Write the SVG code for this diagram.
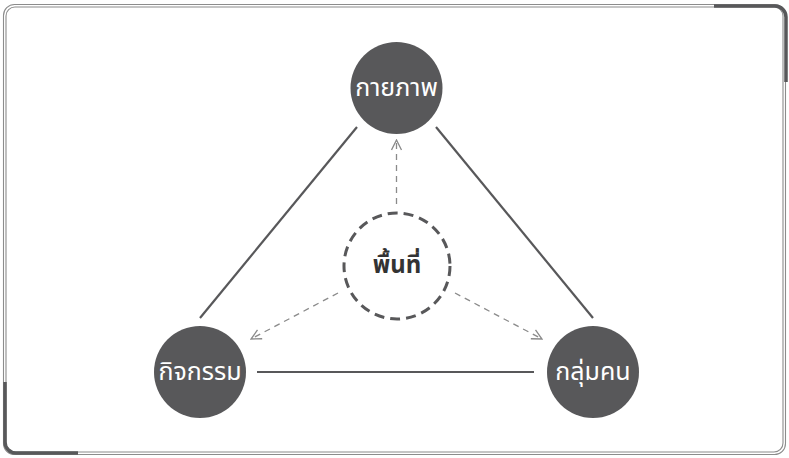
<svg xmlns="http://www.w3.org/2000/svg" width="789" height="458" viewBox="0 0 789 458">
<defs>
<style>
.frame{fill:none;stroke:#8c8c8c;stroke-width:1.1}
.accent{fill:none;stroke:#58585a;stroke-width:3.5}
.node circle{fill:#58585a}
.node text{fill:#ffffff;font-family:"Noto Sans Thai","Noto Sans","DejaVu Sans",sans-serif;font-size:25px;text-anchor:middle;dominant-baseline:central}
.solid{stroke:#58585a;stroke-width:2.2;fill:none}
.dash{stroke:#8a8a8a;stroke-width:1.3;fill:none;stroke-dasharray:6 5}
.center circle{fill:#ffffff;stroke:#58585a;stroke-width:3;stroke-dasharray:10 6}
.center text{fill:#333333;font-family:"Noto Sans Thai","Noto Sans","DejaVu Sans",sans-serif;font-size:24px;font-weight:bold;text-anchor:middle;dominant-baseline:central}
</style>
<marker id="arr" viewBox="0 0 12 12" refX="11" refY="6" markerWidth="12" markerHeight="12" markerUnits="userSpaceOnUse" orient="auto">
<path d="M1,1 L11,6 L1,11" fill="none" stroke="#8a8a8a" stroke-width="1.3"/>
</marker>
</defs>
<rect width="789" height="458" fill="#ffffff"/>
<g id="frame">
<rect class="frame" x="3.5" y="4.5" width="782" height="450" rx="11"/>
<rect class="frame" x="6" y="7" width="777" height="445" rx="9"/>
<path class="accent" d="M714,6 H775 A11,11 0 0 1 786,17 V82"/>
<path class="accent" d="M5,382 V442 A11,11 0 0 0 16,453 H78"/>
</g>
<g id="connectors">
<line class="solid" x1="357" y1="127" x2="200" y2="318"/>
<line class="solid" x1="436" y1="127" x2="593" y2="318"/>
<line class="solid" x1="257" y1="372" x2="534" y2="372"/>
<line class="dash" x1="396.5" y1="204" x2="396.5" y2="140" marker-end="url(#arr)"/>
<line class="dash" x1="338" y1="293" x2="251" y2="339" marker-end="url(#arr)"/>
<line class="dash" x1="455" y1="293" x2="542" y2="339" marker-end="url(#arr)"/>
</g>
<g id="node-physical" class="node">
<circle cx="396.5" cy="88" r="46"/>
<text x="396.5" y="88">กายภาพ</text>
</g>
<g id="node-activity" class="node">
<circle cx="200" cy="372" r="46"/>
<text x="200" y="372">กิจกรรม</text>
</g>
<g id="node-people" class="node">
<circle cx="593" cy="372" r="46"/>
<text x="593" y="372">กลุ่มคน</text>
</g>
<g id="node-space" class="center">
<circle cx="397" cy="266" r="53"/>
<text x="397" y="266">พื้นที่</text>
</g>
</svg>
